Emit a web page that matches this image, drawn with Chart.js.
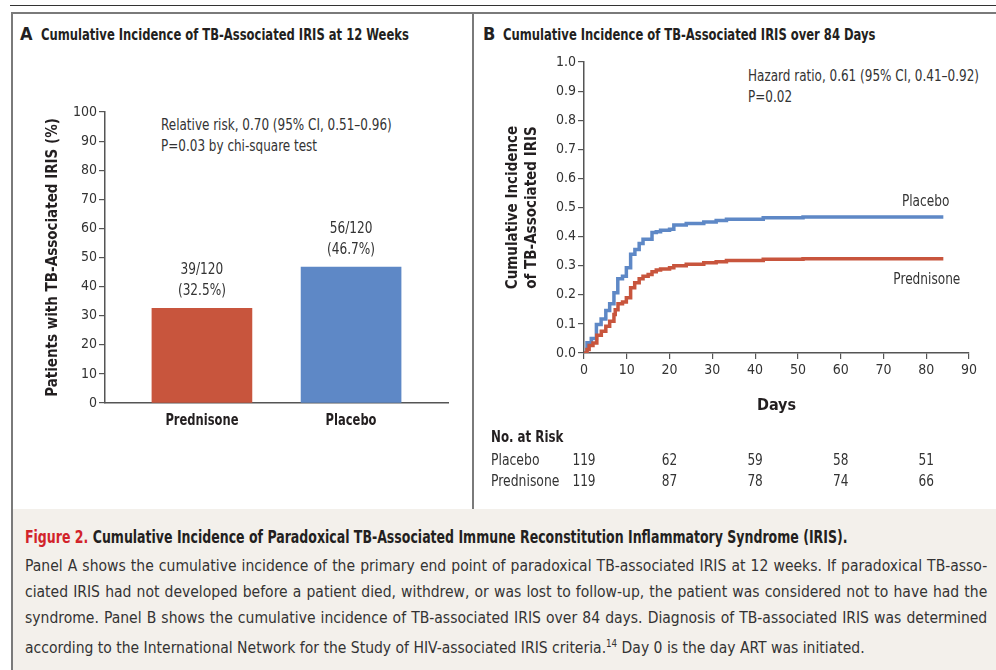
<!DOCTYPE html>
<html>
<head>
<meta charset="utf-8">
<script src="https://cdn.jsdelivr.net/npm/chart.js@4/dist/chart.umd.min.js"></script>
<style>
  html, body { margin: 0; padding: 0; background: #fff; }
  body {
    width: 996px; height: 670px; position: relative; overflow: hidden;
    font-family: "DejaVu Sans Condensed", "Liberation Sans Narrow", Roboto, sans-serif;
    color: #231f20;
  }
  .abs { position: absolute; white-space: nowrap; }
  .sq { transform-origin: 0 0; }
  #topline { left: 10px; top: 5px; width: 986px; border-top: 1.5px solid #333; }
  #frame { left: 11px; top: 12px; width: 990px; height: 495px; border: 2px solid #7a7a7a; border-right: none; }
  #divider { left: 472px; top: 12px; width: 2px; height: 498px; background: #7a7a7a; }
  #caption { left: 11px; top: 509px; width: 990px; height: 170px; background: #f3f0eb; border-left: 2px solid #7a7a7a; }
  .letter { font-size: 18px; font-weight: bold; line-height: 20px; }
  .ptitle { font-size: 16.5px; font-weight: bold; line-height: 20px; transform: scaleX(0.78); }
  .note { font-size: 15px; line-height: 21px; color: #333; transform: scaleX(0.89); }
  #caph { left: 25px; top: 524px; font-size: 17px; font-weight: bold; line-height: 26px; transform: scaleX(0.82); }
  #caph span { color: #d2232a; }
  #cap { left: 25px; top: 553px; width: 992px; transform: scaleX(0.97); }
  #cap .l { font-size: 16px; line-height: 26px; color: #333; text-align: justify; text-align-last: justify; white-space: nowrap; }
  #cap .l.last { text-align-last: left; }
  canvas { position: absolute; }
</style>
</head>
<body>
<div id="topline" class="abs"></div>
<div id="frame" class="abs"></div>
<div id="divider" class="abs"></div>
<div id="caption" class="abs"></div>

<div class="abs letter" style="left:20px; top:24px;">A</div>
<div class="abs ptitle sq" style="left:41px; top:25px;">Cumulative Incidence of TB-Associated IRIS at 12 Weeks</div>
<div class="abs letter" style="left:483px; top:24px;">B</div>
<div class="abs ptitle sq" style="left:503px; top:25px;">Cumulative Incidence of TB-Associated IRIS over 84 Days</div>

<div class="abs note sq" style="left:161px; top:115px;">Relative risk, 0.70 (95% CI, 0.51–0.96)<br>P=0.03 by chi-square test</div>
<div class="abs note sq" style="left:748px; top:66px;">Hazard ratio, 0.61 (95% CI, 0.41–0.92)<br>P=0.02</div>

<canvas id="chartA" width="458" height="495" style="left:13px; top:14px;"></canvas>
<canvas id="chartB" width="522" height="495" style="left:474px; top:14px;"></canvas>

<div id="caph" class="abs sq"><span>Figure 2.</span> Cumulative Incidence of Paradoxical TB-Associated Immune Reconstitution Inflammatory Syndrome (IRIS).</div>
<div id="cap" class="abs sq">
  <div class="l">Panel A shows the cumulative incidence of the primary end point of paradoxical TB-associated IRIS at 12 weeks. If paradoxical TB-asso-</div>
  <div class="l">ciated IRIS had not developed before a patient died, withdrew, or was lost to follow-up, the patient was considered not to have had the</div>
  <div class="l">syndrome. Panel B shows the cumulative incidence of TB-associated IRIS over 84 days. Diagnosis of TB-associated IRIS was determined</div>
  <div class="l last">according to the International Network for the Study of HIV-associated IRIS criteria.<sup style="font-size:10px">14</sup> Day 0 is the day ART was initiated.</div>
</div>

<script>
const FONT = '"DejaVu Sans Condensed", "Liberation Sans Narrow", Roboto, sans-serif';
const RED = "#c8553d";
const BLUE = "#5e88c6";
const AXIS = "#555";

// Panel A data
const groups = ["Prednisone", "Placebo"];
const pctIris = [32.5, 46.7];
const countLabels = ["39/120", "56/120"];
const pctLabels = ["(32.5%)", "(46.7%)"];
const barColors = [RED, BLUE];

// Panel B data (Kaplan-Meier style steps)
const placeboDays = [0, 0.7, 1.7, 2.9, 4.0, 5.1, 6.0, 7.0, 7.9, 9.0, 9.9, 10.9, 11.9, 12.9, 13.8, 15.9, 16.9, 17.9, 20.0, 21.0, 23.9, 28.0, 30.9, 33.3, 41.9, 51.2, 84];
const placeboInc  = [0, 0.035, 0.05, 0.098, 0.117, 0.146, 0.169, 0.207, 0.255, 0.264, 0.293, 0.339, 0.356, 0.376, 0.391, 0.414, 0.417, 0.422, 0.425, 0.44, 0.445, 0.45, 0.455, 0.46, 0.465, 0.467, 0.467];
const prednDays = [0, 0.7, 1.2, 2.1, 3.0, 4.05, 5.1, 6.0, 7.0, 7.3, 7.95, 9.0, 9.9, 10.9, 11.85, 12.9, 13.8, 15.0, 15.9, 16.9, 17.9, 20.0, 21.0, 23.9, 28.0, 30.9, 33.3, 41.9, 51.2, 84];
const prednInc  = [0, 0.012, 0.026, 0.034, 0.061, 0.075, 0.092, 0.109, 0.132, 0.149, 0.169, 0.175, 0.19, 0.224, 0.241, 0.255, 0.264, 0.27, 0.279, 0.285, 0.289, 0.293, 0.30, 0.305, 0.31, 0.314, 0.318, 0.322, 0.324, 0.324];

const riskDays = [0, 20, 40, 60, 80];
const riskPlacebo = [119, 62, 59, 58, 51];
const riskPredn = [119, 87, 78, 74, 66];

Chart.defaults.font.family = FONT;
Chart.defaults.color = "#333";

const axisGrid = { drawOnChartArea: false, drawTicks: true, tickLength: 6, color: AXIS, lineWidth: 1.2 };
const axisBorder = { display: true, color: AXIS, width: 1.5 };

// canvas text squeezed horizontally, like the narrow journal font
function narrowText(ctx, text, x, y, align, sx) {
  ctx.save();
  ctx.translate(x, y);
  ctx.scale(sx, 1);
  ctx.textAlign = align;
  ctx.fillText(text, 0, 0);
  ctx.restore();
}

// labels above bars and category names
const barLabels = {
  id: "barLabels",
  afterDraw(chart) {
    const ctx = chart.ctx;
    const meta = chart.getDatasetMeta(0);
    const xs = chart.scales.x;
    ctx.save();
    ctx.textBaseline = "middle";
    ctx.fillStyle = "#333";
    ctx.font = "15px " + FONT;
    meta.data.forEach((bar, i) => {
      narrowText(ctx, countLabels[i], bar.x, bar.y - 38, "center", 0.9);
      narrowText(ctx, pctLabels[i], bar.x, bar.y - 17, "center", 0.9);
    });
    ctx.fillStyle = "#231f20";
    ctx.font = "bold 16px " + FONT;
    groups.forEach((g, i) => {
      narrowText(ctx, g, xs.getPixelForValue(i + 1), xs.top + 18, "center", 0.8);
    });
    ctx.restore();
  }
};

new Chart(document.getElementById("chartA"), {
  type: "bar",
  data: {
    datasets: [{
      data: groups.map((g, i) => ({ x: i + 1, y: pctIris[i] })),
      backgroundColor: barColors,
      barThickness: 100
    }]
  },
  options: {
    responsive: false,
    animation: false,
    devicePixelRatio: 1,
    layout: { padding: { left: 0, top: 98, right: 23, bottom: 66 } },
    plugins: { legend: { display: false }, tooltip: { enabled: false } },
    scales: {
      x: {
        type: "linear",
        offset: false,
        min: 0.35, max: 2.65,
        afterBuildTicks: (s) => { s.ticks = groups.map((g, i) => ({ value: i + 1 })); },
        afterFit: (s) => { s.height = 40; },
        grid: { display: false },
        border: axisBorder,
        ticks: { display: false }
      },
      y: {
        min: 0, max: 100,
        afterFit: (s) => { s.width = 92; },
        grid: axisGrid,
        border: axisBorder,
        ticks: { stepSize: 10, font: { size: 14 }, padding: 2 },
        title: {
          display: true,
          text: "Patients with TB-Associated IRIS (%)",
          font: { size: 15, weight: "bold" },
          color: "#231f20",
          padding: { top: 31, bottom: 0 }
        }
      }
    }
  },
  plugins: [barLabels]
});

// curve names + number at risk table
const kmText = {
  id: "kmText",
  afterDraw(chart) {
    const ctx = chart.ctx;
    const xs = chart.scales.x, ys = chart.scales.y;
    ctx.save();
    ctx.fillStyle = "#333";
    ctx.textBaseline = "middle";
    ctx.font = "15px " + FONT;
    const lastX = xs.getPixelForValue(placeboDays[placeboDays.length - 1]);
    narrowText(ctx, "Placebo", lastX + 6, ys.getPixelForValue(placeboInc[placeboInc.length - 1]) - 15, "right", 0.9);
    narrowText(ctx, "Prednisone", lastX + 17, ys.getPixelForValue(prednInc[prednInc.length - 1]) + 21, "right", 0.9);

    ctx.font = "bold 16px " + FONT;
    ctx.fillStyle = "#231f20";
    narrowText(ctx, "No. at Risk", 17, 424, "left", 0.82);
    ctx.font = "15px " + FONT;
    ctx.fillStyle = "#333";
    narrowText(ctx, "Placebo", 17, 447, "left", 0.92);
    narrowText(ctx, "Prednisone", 17, 468, "left", 0.92);
    riskDays.forEach((d, i) => {
      const px = xs.getPixelForValue(d);
      narrowText(ctx, String(riskPlacebo[i]), px, 447, "center", 0.9);
      narrowText(ctx, String(riskPredn[i]), px, 468, "center", 0.9);
    });
    ctx.restore();
  }
};

function steps(days, vals) {
  return days.map((d, i) => ({ x: d, y: vals[i] }));
}

new Chart(document.getElementById("chartB"), {
  type: "line",
  data: {
    datasets: [
      { label: "Prednisone", data: steps(prednDays, prednInc), borderColor: RED, borderWidth: 3.5, stepped: true, pointRadius: 0, fill: false },
      { label: "Placebo", data: steps(placeboDays, placeboInc), borderColor: BLUE, borderWidth: 3.5, stepped: true, pointRadius: 0, fill: false }
    ]
  },
  options: {
    responsive: false,
    animation: false,
    devicePixelRatio: 1,
    layout: { padding: { left: 0, top: 48, right: 27, bottom: 86 } },
    plugins: { legend: { display: false }, tooltip: { enabled: false } },
    scales: {
      x: {
        type: "linear",
        min: 0, max: 90,
        afterFit: (s) => { s.height = 70; },
        grid: axisGrid,
        border: axisBorder,
        ticks: { stepSize: 10, font: { size: 14 }, padding: 3, maxRotation: 0 },
        title: {
          display: true,
          text: "Days",
          font: { size: 16, weight: "bold" },
          color: "#231f20",
          padding: { top: 0, bottom: 8 }
        }
      },
      y: {
        min: 0, max: 1,
        afterFit: (s) => { s.width = 110; },
        grid: axisGrid,
        border: axisBorder,
        ticks: { stepSize: 0.1, font: { size: 14 }, padding: 2, callback: (v) => v.toFixed(1) },
        title: {
          display: true,
          text: ["Cumulative Incidence", "of TB-Associated IRIS"],
          font: { size: 15, weight: "bold", lineHeight: 1.25 },
          color: "#231f20",
          padding: { top: 30, bottom: 0 }
        }
      }
    }
  },
  plugins: [kmText]
});
</script>
</body>
</html>
